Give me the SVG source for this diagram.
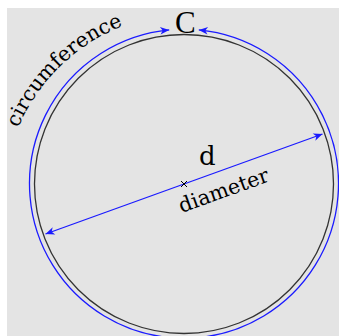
<svg xmlns="http://www.w3.org/2000/svg" width="339" height="336" viewBox="0 0 339 336">
<style>
.lbl{font-family:"DejaVu Serif","Liberation Serif",serif;fill:#000}
.blue{fill:none;stroke:#1a1aff;stroke-width:1.3}
</style>
<defs>
<marker id="arr" viewBox="-10 -5 11 10" markerWidth="11" markerHeight="10" refX="0" refY="0" orient="auto-start-reverse" markerUnits="userSpaceOnUse">
<path d="M0,0 L-9,-3.8 L-6.5,0 L-9,3.8 Z" fill="#1a1aff"/>
</marker>
<path id="cpath" d="M18,128 A190,190 0 0 1 140,20"/>
</defs>
<rect width="339" height="336" fill="#ffffff"/>
<rect x="7" y="8" width="332" height="328" fill="#e4e4e4"/>
<g id="circle">
<circle cx="184" cy="184" r="149.5" fill="none" stroke="#333" stroke-width="1.3"/>
</g>
<g id="connectors">
<path id="circumference-arc" class="blue" d="M169.2,29.9 A154.5,154.5 0 1 0 198.8,29.9" marker-start="url(#arr)" marker-end="url(#arr)"/>
<path id="diameter-line" class="blue" d="M45.5,234 L322.5,134" marker-start="url(#arr)" marker-end="url(#arr)"/>
</g>
<g id="center">
<path d="M181,181 L187,187 M187,181 L181,187" stroke="#000" stroke-width="1"/>
</g>
<g id="label-C"><text x="175" y="33" font-size="31" font-family="'Liberation Serif','DejaVu Serif',serif" fill="#000">C</text></g>
<g id="label-d"><text class="lbl" x="199" y="165" font-size="26">d</text></g>
<g id="label-diameter"><text class="lbl" x="0" y="0" font-size="20.7" transform="translate(181.5,213) rotate(-19.8)">diameter</text></g>
<g id="label-circumference"><text class="lbl" font-size="20.5"><textPath href="#cpath">circumference</textPath></text></g>
</svg>
